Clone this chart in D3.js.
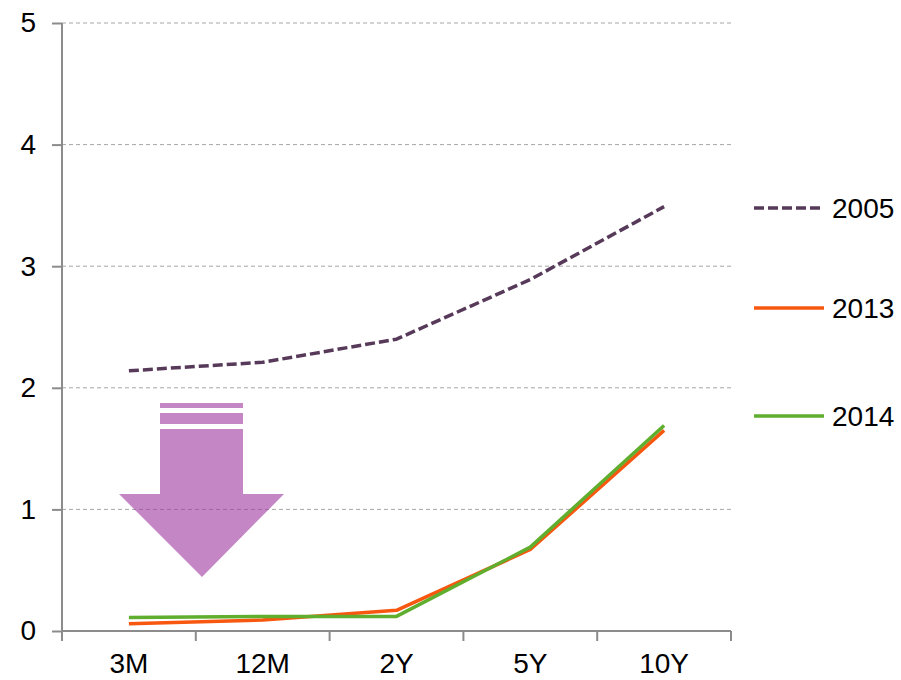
<!DOCTYPE html>
<html><head><meta charset="utf-8">
<script src="https://cdn.jsdelivr.net/npm/d3@7"></script>
<style>body{margin:0;background:#fff}svg{display:block}text{font-family:"Liberation Sans",Arial,sans-serif}</style>
</head><body>
<svg id="c" width="901" height="680"></svg>
<script>
const categories = ["3M","12M","2Y","5Y","10Y"];
const yTicks = [0,1,2,3,4,5];
const s2005 = [2.14,2.21,2.40,2.89,3.49];
const s2013 = [0.06,0.09,0.17,0.67,1.65];
const s2014 = [0.11,0.12,0.12,0.69,1.69];
const seriesNames = ["2005","2013","2014"];
const seriesColors = ["#573a59","#f7570f","#5fae2e"];

(function(){
const series = [
  {name:seriesNames[0], values:s2005, color:seriesColors[0], dash:"10,4"},
  {name:seriesNames[1], values:s2013, color:seriesColors[1], dash:null},
  {name:seriesNames[2], values:s2014, color:seriesColors[2], dash:null}
];
const FS = 28;
const svg = d3.select("#c");
const mLeft=62, mRight=731, mTop=23, mBottom=631;
const x = d3.scaleBand().domain(categories).range([mLeft,mRight]).padding(0);
const y = d3.scaleLinear().domain([0,5]).range([mBottom,mTop]);

// gridlines
svg.append("g").selectAll("line").data(yTicks.filter(d=>d>0)).join("line")
  .attr("x1",mLeft).attr("x2",mRight).attr("y1",d=>y(d)).attr("y2",d=>y(d))
  .attr("stroke","#a6a6a6").attr("stroke-width",1).attr("stroke-dasharray","4,3");

// arrow (annotation)
const arrow = svg.append("g").attr("fill","rgb(160,60,160)").attr("fill-opacity",0.62);
arrow.append("rect").attr("x",160).attr("y",403).attr("width",83).attr("height",5);
arrow.append("rect").attr("x",160).attr("y",413).attr("width",83).attr("height",11);
arrow.append("path").attr("d","M160,429 L243,429 L243,494 L284,494 L202,577 L119,494 L160,494 Z");

// axes
const yAxis = d3.axisLeft(y).tickValues(yTicks).tickSize(10).tickPadding(16).tickFormat(d3.format("d"));
const gy = svg.append("g").attr("transform",`translate(${mLeft},0)`).call(yAxis);
gy.selectAll("line").attr("stroke","#8c8c8c").attr("stroke-width",2);
gy.select(".domain").attr("stroke","#8c8c8c").attr("stroke-width",2).attr("d",`M0,${mTop}V${mBottom+1}`);
gy.selectAll("text").attr("font-size",FS).attr("fill","#000").attr("font-family","Liberation Sans, Arial, sans-serif");

const xAxis = d3.axisBottom(x).tickSize(0).tickPadding(22);
const gx = svg.append("g").attr("transform",`translate(0,${mBottom})`).call(xAxis);
gx.select(".domain").attr("stroke","#8c8c8c").attr("stroke-width",2).attr("d",`M${mLeft},0H${mRight}`);
gx.selectAll("text").attr("font-size",FS).attr("fill","#000").attr("font-family","Liberation Sans, Arial, sans-serif").attr("dy","0.71em");
const bounds = categories.map(c=>x(c)).concat([mRight]);
svg.append("g").selectAll("line").data(bounds).join("line")
  .attr("x1",d=>d).attr("x2",d=>d).attr("y1",mBottom).attr("y2",mBottom+10)
  .attr("stroke","#8c8c8c").attr("stroke-width",2);

// lines
const line = d3.line().x((d,i)=>x(categories[i])+x.bandwidth()/2).y(d=>y(d));
svg.append("g").selectAll("path").data(series).join("path")
  .attr("d",d=>line(d.values)).attr("fill","none")
  .attr("stroke",d=>d.color).attr("stroke-width",3.5)
  .attr("stroke-dasharray",d=>d.dash).attr("stroke-linejoin","round");

// legend
const legY = [208,308,416];
const lg = svg.append("g").selectAll("g").data(series).join("g")
  .attr("transform",(d,i)=>`translate(754,${legY[i]})`);
lg.append("line").attr("x1",0).attr("x2",70).attr("y1",0).attr("y2",0)
  .attr("stroke",d=>d.color).attr("stroke-width",3.5).attr("stroke-dasharray",d=>d.dash);
lg.append("text").attr("x",78).attr("y",0).attr("dy","0.36em").attr("font-size",FS).attr("fill","#000").text(d=>d.name);
})();
</script>
</body></html>
